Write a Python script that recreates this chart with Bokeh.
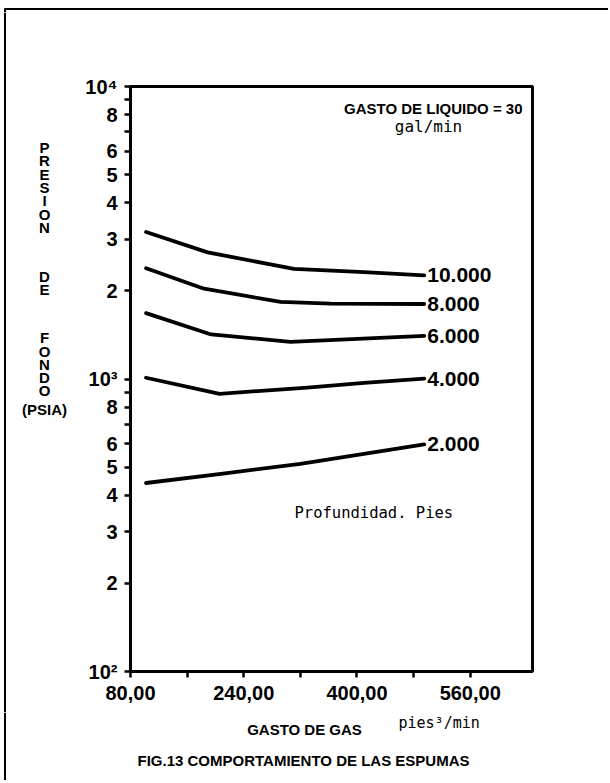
import math
from bokeh.plotting import figure
from bokeh.layouts import column, row
from bokeh.models import FixedTicker, Label, ColumnDataSource, Range1d
from bokeh.core.properties import value
from bokeh.embed import file_html
from bokeh.resources import INLINE

# ---------------- data ----------------
gas_10000 = [102, 189, 311, 410, 495]
pres_10000 = [3180, 2710, 2380, 2320, 2260]
gas_8000 = [102, 184, 292, 363, 495]
pres_8000 = [2390, 2035, 1835, 1810, 1805]
gas_6000 = [102, 194, 306, 495]
pres_6000 = [1680, 1420, 1340, 1405]
gas_4000 = [102, 206, 330, 410, 495]
pres_4000 = [1010, 890, 935, 970, 1003]
gas_2000 = [102, 208, 320, 495]
pres_2000 = [441, 474, 513, 598]
depth_labels = ["10.000", "8.000", "6.000", "4.000", "2.000"]

x_ticks = [80, 240, 400, 560]
x_tick_labels = ["80,00", "240,00", "400,00", "560,00"]
x_minor_ticks = [160, 320, 480]
y_ticks = [100, 200, 300, 400, 500, 600, 800, 1000, 2000, 3000, 4000, 5000, 6000, 8000, 10000]
y_tick_labels = ["10²", "2", "3", "4", "5", "6", "8", "10³", "2", "3", "4", "5", "6", "8", "10⁴"]
y_minor_ticks = [700, 900, 7000, 9000]

ylab_letters = list("PRESION") + list("DE") + list("FONDO") + ["(PSIA)"]

# ---------------- geometry (page px) ----------------
PAGE_W = 608
TOP_H = 12
LEFT_W = 80
MAIN_H = 700
BOT_H = 68
FL, FR, FT, FB = 130, 532, 86, 671     # frame edges on the page
X0, X1 = 80, 648
Y0, Y1 = 100, 10000
SANS = "Liberation Sans"
MONO = "DejaVu Sans Mono"


def dx(px):  # page px -> data x
    return X0 + (px - FL) * (X1 - X0) / (FR - FL)


def dy(py):  # page px -> data y (log)
    ly0, ly1 = math.log10(Y0), math.log10(Y1)
    return 10 ** (ly1 - (py - FT) * (ly1 - ly0) / (FB - FT))


def blank_fig(w, h, x0, y0):
    f = figure(width=w, height=h, x_range=Range1d(x0, x0 + w), y_range=Range1d(y0 + h, y0),
               output_backend="svg", toolbar_location=None, min_border=0,
               x_axis_location=None, y_axis_location=None, frame_align=False)
    f.grid.visible = False
    f.outline_line_color = None
    f.background_fill_color = "white"
    f.border_fill_color = "white"
    return f


# ---------------- main chart ----------------
main_w = PAGE_W - LEFT_W
p = figure(width=main_w, height=MAIN_H, output_backend="svg", toolbar_location=None,
           x_range=Range1d(X0, X1), y_range=Range1d(Y0, Y1), y_axis_type="log",
           min_border_left=FL - LEFT_W, min_border_right=PAGE_W - FR,
           min_border_top=FT - TOP_H, min_border_bottom=TOP_H + MAIN_H - FB,
           frame_align=False)
p.background_fill_color = "white"
p.border_fill_color = "white"
p.outline_line_color = "black"
p.outline_line_width = 3
p.xgrid.visible = False
p.ygrid.visible = False

for ax in (p.xaxis, p.yaxis):
    ax.axis_line_width = 3
    ax.axis_line_color = "black"
    ax.major_tick_in = 0
    ax.major_tick_out = 6
    ax.minor_tick_in = 0
    ax.minor_tick_out = 6
    ax.major_tick_line_width = 2.5
    ax.minor_tick_line_width = 2.5
    ax.major_label_text_font = SANS
    ax.major_label_text_font_style = "bold"
    ax.major_label_text_color = "black"
    ax.major_label_text_font_size = "20px"

p.xaxis.ticker = FixedTicker(ticks=x_ticks, minor_ticks=x_minor_ticks)
p.xaxis.major_label_overrides = {t: s for t, s in zip(x_ticks, x_tick_labels)}
p.xaxis.major_label_standoff = 8

p.yaxis.ticker = FixedTicker(ticks=y_ticks, minor_ticks=y_minor_ticks)
p.yaxis.major_label_overrides = {t: s for t, s in zip(y_ticks, y_tick_labels)}
p.yaxis.major_label_standoff = 7

series = [(gas_10000, pres_10000), (gas_8000, pres_8000), (gas_6000, pres_6000),
          (gas_4000, pres_4000), (gas_2000, pres_2000)]
for gx, pv in series:
    p.line(gx, pv, line_color="black", line_width=3.8, line_join="round", line_cap="round")

end_src = ColumnDataSource(dict(x=[s[0][-1] for s in series],
                                y=[s[1][-1] for s in series],
                                t=depth_labels))
p.text(x="x", y="y", text="t", source=end_src, x_offset=3,
       text_baseline="middle", text_align="left",
       text_font=value(SANS), text_font_style="bold", text_font_size="21px",
       text_color="black")


def main_label(px, py, text, font, size, bold=True, align="center"):
    p.add_layout(Label(x=dx(px), y=dy(py), text=text, text_font=font,
                       text_font_size=size, text_font_style="bold" if bold else "normal",
                       text_align=align, text_baseline="middle", text_color="black"))


main_label(522, 108, "GASTO DE LIQUIDO = 30", SANS, "15px", align="right")
main_label(428, 126, "gal/min", MONO, "16px", bold=False)
main_label(294, 512, "Profundidad. Pies", MONO, "15.5px", bold=False, align="left")

# ---------------- top strip (scan border) ----------------
top = blank_fig(PAGE_W, TOP_H, 0, 0)
top.segment(x0=[4], y0=[8.5], x1=[PAGE_W], y1=[8.5], line_color="black", line_width=2)
top.segment(x0=[4.5], y0=[8], x1=[4.5], y1=[TOP_H], line_color="black", line_width=2)

# ---------------- left strip: vertical axis title ----------------
left = blank_fig(LEFT_W, MAIN_H, 0, TOP_H)
left.segment(x0=[4.5], y0=[TOP_H], x1=[4.5], y1=[TOP_H + MAIN_H], line_color="black", line_width=2)
ylab_pos = [147, 160, 174, 187, 200, 214, 227, 276, 289, 337, 351, 364, 377, 390, 409]
left.text(x=[44] * len(ylab_letters), y=ylab_pos, text=ylab_letters,
          text_align="center", text_baseline="middle", text_font=value(SANS),
          text_font_style="bold", text_font_size="15px", text_color="black")

# ---------------- bottom strip: x title and caption ----------------
bot_y0 = TOP_H + MAIN_H
bot = blank_fig(PAGE_W, BOT_H, 0, bot_y0)
bot.segment(x0=[4.5], y0=[bot_y0], x1=[4.5], y1=[bot_y0 + BOT_H], line_color="black", line_width=2)
bot.text(x=[304], y=[729], text=["GASTO DE GAS"], text_align="center", text_baseline="middle",
         text_font=value(SANS), text_font_style="bold", text_font_size="15px", text_color="black")
bot.text(x=[398], y=[722], text=["pies³/min"], text_align="left", text_baseline="middle",
         text_font=value(MONO), text_font_size="15px", text_color="black")
bot.text(x=[303], y=[760], text=["FIG.13 COMPORTAMIENTO DE LAS ESPUMAS"], text_align="center",
         text_baseline="middle", text_font=value(SANS), text_font_style="bold",
         text_font_size="15px", text_color="black")

layout = column(top, row(left, p), bot)
open("out.html", "w").write(file_html(layout, INLINE))
